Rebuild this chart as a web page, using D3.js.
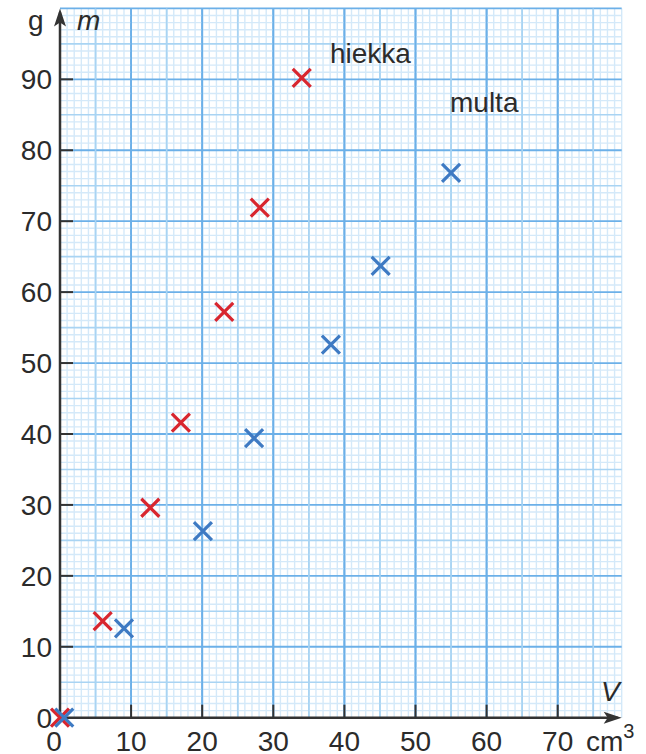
<!DOCTYPE html>
<html>
<head>
<meta charset="utf-8">
<script src="https://cdn.jsdelivr.net/npm/d3@7"></script>
<style>
  body { margin: 0; background: #fff; }
  svg text { font-family: "Liberation Sans", Arial, sans-serif; fill: #2b2b2b; }
</style>
</head>
<body>
<div id="container"></div>
<script>
/* DATA */
const hiekkaV = [0, 6, 12.7, 17, 23.1, 28.1, 34];
const hiekkaM = [0, 13.6, 29.6, 41.6, 57.2, 71.9, 90.2];
const multaV = [0.6, 9, 20.1, 27.3, 38.1, 45.1, 55];
const multaM = [0, 12.6, 26.3, 39.4, 52.6, 63.7, 76.8];
const xTicks = [0, 10, 20, 30, 40, 50, 60, 70];
const yTicks = [0, 10, 20, 30, 40, 50, 60, 70, 80, 90];

/* CONSTANTS */
const width = 646, height = 754;
const x0 = 60, y0 = 717.7;

const x = d3.scaleLinear().domain([0, 79]).range([x0, x0 + 79 * 7.11]);
const y = d3.scaleLinear().domain([0, 100]).range([y0, y0 - 100 * 7.093]);

const svg = d3.select("#container").append("svg")
  .attr("width", width)
  .attr("height", height);

// GRID (millimetre paper)
const gridCol = v => v % 10 === 0 ? "#6cb0e8" : v % 5 === 0 ? "#a9d4f3" : "#d4e9f9";
const gridW = v => v % 10 === 0 ? 1.8 : v % 5 === 0 ? 1.6 : 1.4;
const grid = svg.append("g");
const xs = d3.range(1, 80), ys = d3.range(1, 101);
// draw minor first so major stay on top
const order = v => v % 10 === 0 ? 2 : v % 5 === 0 ? 1 : 0;
grid.selectAll("line.v")
  .data(xs.slice().sort((a, b) => order(a) - order(b)))
  .join("line")
  .attr("x1", d => x(d)).attr("x2", d => x(d))
  .attr("y1", y(0)).attr("y2", y(100))
  .attr("stroke", gridCol).attr("stroke-width", gridW);
grid.selectAll("line.h")
  .data(ys.slice().sort((a, b) => order(a) - order(b)))
  .join("line")
  .attr("x1", x(0)).attr("x2", x(79))
  .attr("y1", d => y(d)).attr("y2", d => y(d))
  .attr("stroke", gridCol).attr("stroke-width", gridW);
// redraw major over minor crossings
grid.selectAll("line.mv")
  .data(xs.filter(d => d % 5 === 0))
  .join("line")
  .attr("x1", d => x(d)).attr("x2", d => x(d))
  .attr("y1", y(0)).attr("y2", y(100))
  .attr("stroke", gridCol).attr("stroke-width", gridW);

// AXES
const axisCol = "#333";
svg.append("line")
  .attr("x1", x(0)).attr("x2", x(79) - 4)
  .attr("y1", y(0)).attr("y2", y(0))
  .attr("stroke", axisCol).attr("stroke-width", 2.5);
svg.append("line")
  .attr("x1", x(0)).attr("x2", x(0))
  .attr("y1", y(0) + 1.25).attr("y2", y(100) + 4)
  .attr("stroke", axisCol).attr("stroke-width", 2.5);
// arrow heads
const xe = x(79), ye = y(100);
svg.append("path")
  .attr("d", `M${xe},${y0} L${xe - 18},${y0 - 6} L${xe - 14},${y0} L${xe - 18},${y0 + 6} Z`)
  .attr("fill", axisCol);
svg.append("path")
  .attr("d", `M${x0},${ye} L${x0 - 6},${ye + 18} L${x0},${ye + 14} L${x0 + 6},${ye + 18} Z`)
  .attr("fill", axisCol);

// ticks
svg.selectAll("line.xt")
  .data(xTicks.filter(d => d > 0))
  .join("line")
  .attr("x1", d => x(d)).attr("x2", d => x(d))
  .attr("y1", y(0)).attr("y2", y(0) - 13)
  .attr("stroke", axisCol).attr("stroke-width", 2);
svg.selectAll("line.yt")
  .data(yTicks.filter(d => d > 0))
  .join("line")
  .attr("x1", x(0)).attr("x2", x(0) + 13)
  .attr("y1", d => y(d)).attr("y2", d => y(d))
  .attr("stroke", axisCol).attr("stroke-width", 2);

// tick labels
const fs = 28;
svg.selectAll("text.xl")
  .data(xTicks)
  .join("text")
  .attr("x", d => x(d) - (d === 0 ? 6 : 0))
  .attr("y", 751)
  .attr("text-anchor", "middle")
  .attr("font-size", fs)
  .text(d => d);
svg.selectAll("text.yl")
  .data(yTicks)
  .join("text")
  .attr("x", 52)
  .attr("y", d => y(d) + 10)
  .attr("text-anchor", "end")
  .attr("font-size", fs)
  .text(d => d);

// units and axis names
svg.append("text").attr("x", 586).attr("y", 751).attr("font-size", fs)
  .text("cm").append("tspan").attr("dy", -13).attr("font-size", 20).text("3");
svg.append("text").attr("x", 28).attr("y", 30).attr("font-size", fs).text("g");
svg.append("text").attr("x", 77).attr("y", 30).attr("font-size", fs)
  .attr("font-style", "italic").text("m");
svg.append("text").attr("x", 601).attr("y", 701).attr("font-size", fs)
  .attr("font-style", "italic").text("V");

// series labels
svg.append("text").attr("x", 330).attr("y", 63).attr("font-size", fs).text("hiekka");
svg.append("text").attr("x", 450).attr("y", 112).attr("font-size", fs).text("multa");

// MARKERS
const cross = "M-9,-9L9,9M-9,9L9,-9";
function drawSeries(vs, ms, color, cls) {
  svg.selectAll("path." + cls)
    .data(vs.map((v, i) => ({ v, m: ms[i] })))
    .join("path")
    .attr("class", cls)
    .attr("d", cross)
    .attr("transform", d => `translate(${x(d.v)}, ${y(d.m)})`)
    .attr("stroke", color)
    .attr("stroke-width", 3.2)
    .attr("fill", "none");
}
drawSeries(hiekkaV, hiekkaM, "#d8262f", "hiekka");
drawSeries(multaV, multaM, "#3e7ac3", "multa");
</script>
</body>
</html>
